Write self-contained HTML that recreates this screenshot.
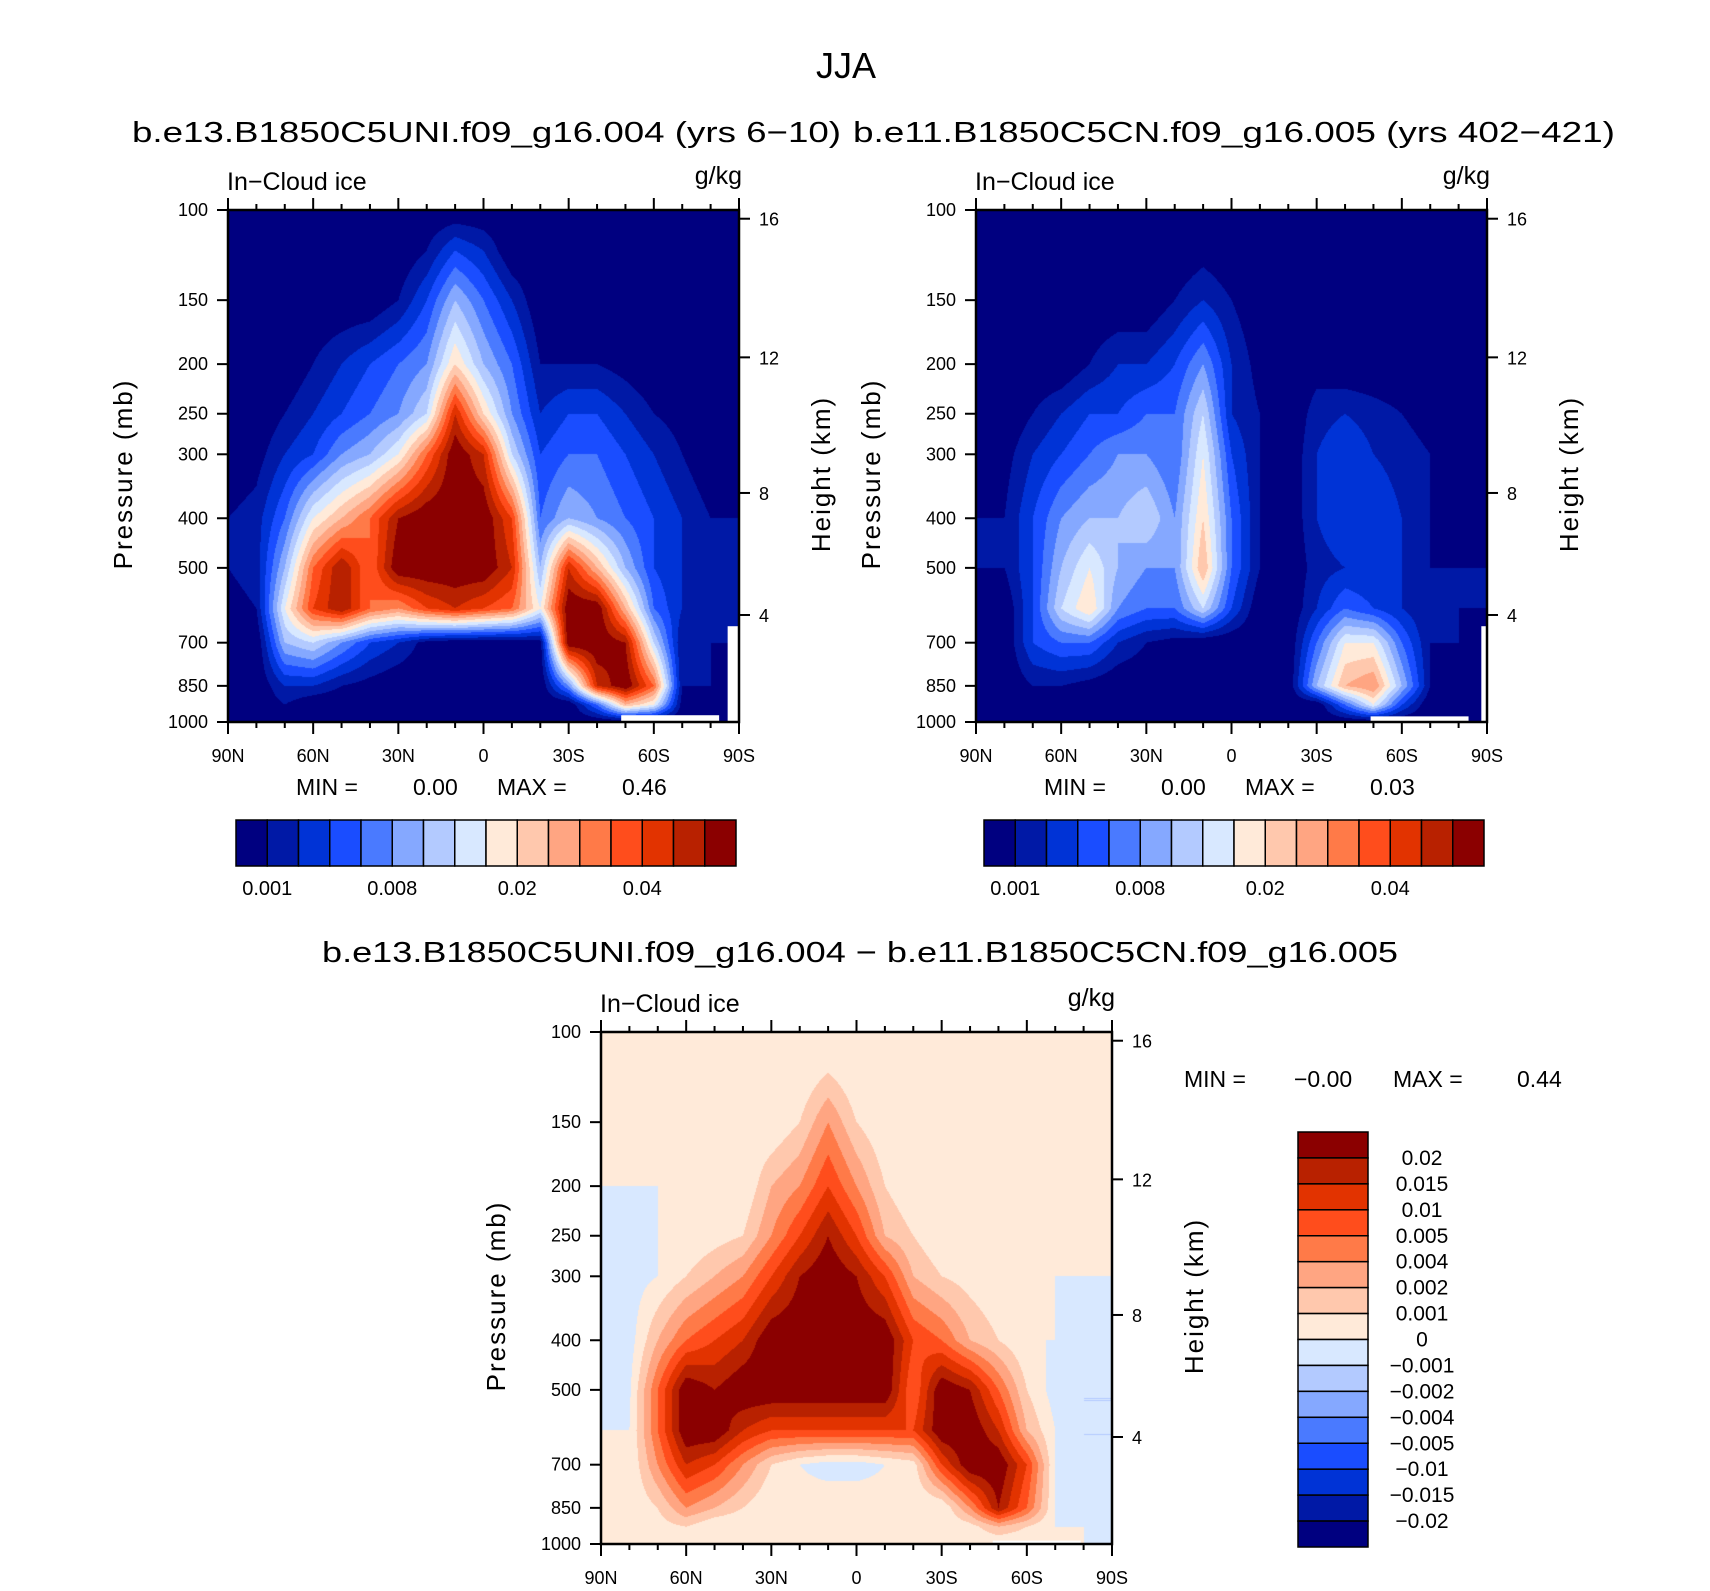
<!DOCTYPE html>
<html><head><meta charset="utf-8">
<style>
body{margin:0;background:#fff;width:1710px;height:1591px;overflow:hidden;position:relative;font-family:"Liberation Sans",sans-serif}
canvas{position:absolute}
svg{position:absolute;left:0;top:0}
</style></head>
<body>
<canvas id="c1" width="511" height="512" style="left:228px;top:210px"></canvas>
<canvas id="c2" width="511" height="512" style="left:976px;top:210px"></canvas>
<canvas id="c3" width="511" height="512" style="left:601px;top:1032px"></canvas>
<svg id="ov" width="1710" height="1591" font-family="Liberation Sans, sans-serif"></svg>
<script>
// ---- data ----
const lats=[90,80,70,60,50,40,30,20,10,0,-10,-20,-30,-40,-50,-60,-70,-80,-90];
const levs=[100,120,150,200,250,300,400,500,600,700,850,925,1000];
const colors=["#000080","#0019a6","#0033d6","#1a4dff","#4a7aff","#85a8ff","#b3caff","#d8e8ff","#ffead9","#ffc8ad","#ffa582","#ff7a48","#ff4d1c","#e23300","#b82100","#8b0000"];
const fieldLeft=[
[0,0,0,0,0,0,0,0,0,0,0,0,0,0,0,0,0,0,0],
[0,0,0,0,0,0,0,1,3,2,0,0,0,0,0,0,0,0,0],
[0,0,0,0,0,0,1,3,6,4,2,0,0,0,0,0,0,0,0],
[0,0,0,1,2,3,4,5,9,6,4,1,1,1,0.5,0,0,0,0],
[0,0,1,2,3,4,5,7,14,9,5,2,3,3,2,1,0.5,0,0],
[0,0.5,2,3,5,6,8,12,16,14,7,3,4,4,3,2,1,0,0],
[1,1.5,4,8,10,12,15,16,16,16,13,4,6,5,4,3,2,1,1],
[1,1.5,6,12,15,12,16,16,16,16,14,6,14,10,6,3,2,1.5,1],
[0.5,1,8,13,15,12,11,13,14,13,12,8,16,16,10,4,2,1.5,1.5],
[0,0,6,7,5,3,2,0.5,0,0,0,0.5,16,16,15,7,1,1,1],
[0,0,2,2,1,0.5,0,0,0,0,0,0,5,14,16,12,1,1,0],
[0,0,1,0,0,0,0,0,0,0,0,0,0,4,10,8,0.5,0.5,0],
[0,0,0,0,0,0,0,0,0,0,0,0,0,0,0,0,0,0,0]];
const fieldRight=[
[0,0,0,0,0,0,0,0,0,0,0,0,0,0,0,0,0,0,0],
[0,0,0,0,0,0,0,0,0.5,0,0,0,0,0,0,0,0,0,0],
[0,0,0,0,0,0,0,1,2,1,0,0,0,0,0,0,0,0,0],
[0,0,0,0,1,2,2,3,5,2,0.5,0,0.5,0,0,0,0,0,0],
[0,0,1,2,3,3,4,4,7,2,1,0,1.5,2,1.5,1,0.5,0,0],
[0,0.5,2,3,4,5,5,4,8,3,1,0,2,3,2,1.5,1,0,0],
[1,1,3,5,6,6,7,5,9,4,1,0,2,3,3,2,1,0.5,0],
[1,1,3,6,8,6,5,5,10,4,1,0,1.5,2,2,2,1,1,1],
[0,0,3,7,9,5,4,4,7,3,0,0,2,4,3,2,1,1,1],
[0,0,3,4,4,2,1,0.5,0,0,0,0,4,8,8,4,1,1,0],
[0,0,1,1,0.5,0,0,0,0,0,0,0,6,10,11,6,1,0,0],
[0,0,0,0,0,0,0,0,0,0,0,0,0,4,8,3,0,0,0],
[0,0,0,0,0,0,0,0,0,0,0,0,0,0,0,0,0,0,0]];
const fieldDiff=[
[8,8,8,8,8,8,8,8,8,8,8,8,8,8,8,8,8,8,8],
[8,8,8,8,8,8,8,8,9,8,8,8,8,8,8,8,8,8,8],
[8,8,8,8,8,8,8,9,11,9,8,8,8,8,8,8,8,8,8],
[8,8,8,8,8,8,10,11,13,11,9,8,8,8,8,8,8,8,8],
[7,7.5,8,8,8.5,9,11,13,15,13,10,9,8,8,8,8,8,8,8],
[7,7.5,8,9,10,11,13,15,16,15,13,10,9,8.5,8,8,8,8,8],
[7,7.5,10,12,13,14,16,16,16,16,16,13,12,10,9,8,8,7.5,7],
[7.5,7.8,12,16,15,16,16,16,16,16,16,12,16,15,12,9,7.5,7,7],
[8,8,12,16,16,14,13,13,13,13,13,13,16,16,14,10,8,7,7],
[8,8,11,14,13,11,9,8,7.5,7.5,8,8.5,13,16,16,13,8,7,7],
[8,8,9,11,10,9,8,8.5,8.8,8.8,8.5,8,8,11,15,12,8,7,7],
[8,8,8.5,9,8,8,8,8,8,8,8,8,8,8.5,10,9,8,8,7.5],
[8,8,8,8,8,8,8,8,8,8,8,8,8,8,8,8,8,8,8]];
const xLabels=["90N","60N","30N","0","30S","60S","90S"];
const xLabelLats=[90,60,30,0,-30,-60,-90];
const pLabels=[100,150,200,250,300,400,500,700,850,1000];
const hLabels=["16","12","8","4"];
const hPress=[104,194,357,618];
const barLabelsTop=["0.001","0.008","0.02","0.04"];
const barLabelIdx=[1,5,9,13];
const diffLabels=["0.02","0.015","0.01","0.005","0.004","0.002","0.001","0","\u22120.001","\u22120.002","\u22120.004","\u22120.005","\u22120.01","\u22120.015","\u22120.02"];
const missLeft=[[-48.5,-83,970,1000],[-86,-90,650,1000]];
const missRight=[[-49,-83.5,975,1000],[-88,-90,650,1000]];
const missDiff=[[-48,-79,985,1000]];

// ---- helpers ----
const NS="http://www.w3.org/2000/svg";
const ov=document.getElementById('ov');
function mk(tag,attrs,parent,txt){const e=document.createElementNS(NS,tag);for(const k in attrs)e.setAttribute(k,attrs[k]);if(txt!==undefined)e.textContent=txt;(parent||ov).appendChild(e);return e;}
function axis(P){return{x:lat=>P.x0+(90-lat)/180*P.w,y:p=>P.y0+Math.log10(p/100)*P.h};}
const logs=levs.map(p=>Math.log10(p/100));
function sample(F,lat,lp){
  let ci=(90-lat)/10;ci=Math.max(0,Math.min(17.9999,ci));const c0=Math.floor(ci),fc=ci-c0;
  let r0=0;while(r0<logs.length-2&&lp>logs[r0+1])r0++;
  let fr=(lp-logs[r0])/(logs[r0+1]-logs[r0]);fr=Math.max(0,Math.min(1,fr));
  const a=F[r0][c0]*(1-fc)+F[r0][c0+1]*fc,b=F[r0+1][c0]*(1-fc)+F[r0+1][c0+1]*fc;
  return a*(1-fr)+b*fr;
}
function hex(h){return[parseInt(h.substr(1,2),16),parseInt(h.substr(3,2),16),parseInt(h.substr(5,2),16)];}
const rgb=colors.map(hex);
function render(id,F,P){
  const cv=document.getElementById(id),ctx=cv.getContext('2d');
  const W=cv.width,H=cv.height,img=ctx.createImageData(W,H);
  for(let j=0;j<H;j++){const lp=(j+0.5)/P.h;for(let i=0;i<W;i++){
    const lat=90-(i+0.5)/P.w*180;let v=Math.floor(sample(F,lat,lp));v=Math.max(0,Math.min(15,v));
    const k=(j*W+i)*4,c=rgb[v];img.data[k]=c[0];img.data[k+1]=c[1];img.data[k+2]=c[2];img.data[k+3]=255;}}
  ctx.putImageData(img,0,0);
}
function panel(P,name,miss){
  const A=axis(P);const g=mk('g',{});
  
  
  miss.forEach(m=>{const r=mk('rect',{x:A.x(m[0]),y:A.y(m[2]),width:A.x(m[1])-A.x(m[0]),height:A.y(m[3])-A.y(m[2]),fill:'#fff'},g);
    });
  mk('rect',{x:P.x0,y:P.y0,width:P.w,height:P.h,fill:'none',stroke:'#000','stroke-width':2.5},g);
  for(let lat=90;lat>=-90;lat-=10){const x=A.x(lat),maj=lat%30===0,L=maj?12:6;
    mk('line',{x1:x,x2:x,y1:P.y0,y2:P.y0-L,stroke:'#000','stroke-width':2},g);
    mk('line',{x1:x,x2:x,y1:P.y0+P.h,y2:P.y0+P.h+L,stroke:'#000','stroke-width':2},g);}
  xLabels.forEach((t,i)=>{const e=mk('text',{x:A.x(xLabelLats[i]),y:P.y0+P.h+40,'font-size':18,'text-anchor':'middle'},g,t);
    });
  pLabels.forEach(p=>{const y=A.y(p);mk('line',{x1:P.x0,x2:P.x0-11,y1:y,y2:y,stroke:'#000','stroke-width':2},g);
    const e=mk('text',{x:P.x0-20,y:y+6,'font-size':18,'text-anchor':'end'},g,String(p));
    });
  hLabels.forEach((t,i)=>{const y=A.y(hPress[i]);mk('line',{x1:P.x0+P.w,x2:P.x0+P.w+11,y1:y,y2:y,stroke:'#000','stroke-width':2},g);
    const e=mk('text',{x:P.x0+P.w+20,y:y+7,'font-size':18},g,t);
    });
  const a=mk('text',{x:P.x0-1,y:P.y0-20,'font-size':25},g,'In\u2212Cloud ice');
  const u=mk('text',{x:P.x0+P.w+3,y:P.y0-26,'font-size':25,'text-anchor':'end'},g,'g/kg');
  const cy=P.y0+P.h*0.5+8;
  const py=mk('text',{x:0,y:0,'font-size':26,'text-anchor':'middle','letter-spacing':2,transform:`translate(${P.x0-96},${cy}) rotate(-90)`},g,'Pressure  (mb)');
  
  const hy=mk('text',{x:0,y:0,'font-size':26,'text-anchor':'middle','letter-spacing':2,transform:`translate(${P.x0+P.w+91},${cy}) rotate(-90)`},g,'Height  (km)');
  
}
function hbar(x0,y0,w,h,name){
  const g=mk('g',{});
  const bw=w/16;colors.forEach((c,i)=>{const r=mk('rect',{x:x0+i*bw,y:y0,width:bw,height:h,fill:c,stroke:'#000','stroke-width':1.5},g);
    });
  barLabelsTop.forEach((t,i)=>{const e=mk('text',{x:x0+barLabelIdx[i]*bw,y:y0+h+29,'font-size':20,'text-anchor':'middle'},g,t);
    });
}
function txt(x,y,s,t,name,anchor,len){const a={x:x,y:y,'font-size':s,'text-anchor':anchor||'start'};if(len){a.textLength=len;a.lengthAdjust='spacingAndGlyphs';}
  const e=mk('text',a,ov,t);return e;}

const P1={x0:228,y0:210,w:511,h:512},P2={x0:976,y0:210,w:511,h:512},P3={x0:601,y0:1032,w:511,h:512};
render('c1',fieldLeft,P1);render('c2',fieldRight,P2);render('c3',fieldDiff,P3);
panel(P1,'left-panel',missLeft);panel(P2,'right-panel',missRight);panel(P3,'difference-panel',missDiff);

txt(846,78,36,'JJA','main-title','middle');
txt(132,142,29,'b.e13.B1850C5UNI.f09_g16.004 (yrs 6\u221210)','left-subtitle','start',709);
txt(853,142,29,'b.e11.B1850C5CN.f09_g16.005 (yrs 402\u2212421)','right-subtitle','start',762);
txt(322,962,29,'b.e13.B1850C5UNI.f09_g16.004 \u2212 b.e11.B1850C5CN.f09_g16.005','difference-title','start',1076);
[[296,'MIN ='],[413,'0.00'],[497,'MAX ='],[622,'0.46']].forEach(a=>txt(a[0],795,23,a[1],'left-min-max'));
[[1044,'MIN ='],[1161,'0.00'],[1245,'MAX ='],[1370,'0.03']].forEach(a=>txt(a[0],795,23,a[1],'right-min-max'));
[[1184,'MIN ='],[1294,'\u22120.00'],[1393,'MAX ='],[1517,'0.44']].forEach(a=>txt(a[0],1087,23,a[1],'difference-min-max'));
hbar(236,820,500,46,'left-colorbar');hbar(984,820,500,46,'right-colorbar');
(function(){const x0=1298,y0=1132,w=70,H=415,bh=H/16;const g=mk('g',{});
  
  for(let i=0;i<16;i++){const r=mk('rect',{x:x0,y:y0+i*bh,width:w,height:bh,fill:colors[15-i],stroke:'#000','stroke-width':1.5},g);
    }
  diffLabels.forEach((t,i)=>{const e=mk('text',{x:1422,y:y0+(i+1)*bh+7,'font-size':21,'text-anchor':'middle'},g,t);
    });})();
</script>
</body></html>
